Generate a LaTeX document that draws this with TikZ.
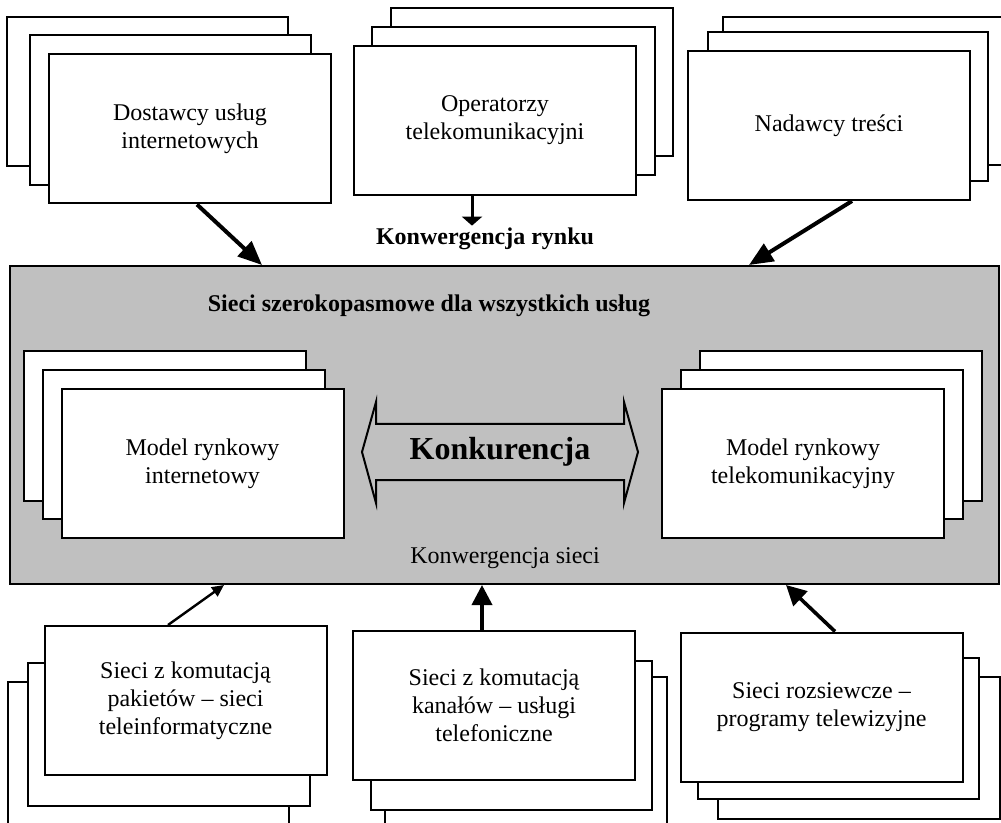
\documentclass[tikz,border=0pt]{standalone}
\usepackage{fontspec}
\setmainfont{Liberation Serif}
\usetikzlibrary{arrows.meta,calc}
\definecolor{panelgray}{RGB}{192,192,192}

\begin{document}
\begin{tikzpicture}
[x=0.5pt,y=-0.5pt,
font=\fontsize{12}{14}\selectfont,
card/.style={draw,fill=white,line width=1pt,minimum width=141pt,minimum height=74.5pt,align=center,inner sep=2pt},
backcard/.style={draw,fill=white,line width=1pt},
headtext/.style={font=\fontsize{12}{14}\selectfont\bfseries,inner sep=1pt},
plaintext/.style={inner sep=1pt},
flowbig/.style={line width=2pt,-{Triangle[length=12pt,width=10pt]}},
flowshort/.style={line width=1.5pt,-{Triangle[length=4.5pt,width=10pt]}},
flowthin/.style={line width=1.2pt,-{Triangle[length=6pt,width=5.5pt]}},
flowup/.style={line width=1.8pt,-{Triangle[length=10pt,width=10pt]}}]
  \useasboundingbox (0,0) rectangle (1001,823);
  \clip (0,0) rectangle (1001,823);
  \node[draw,fill=panelgray,line width=1pt,minimum width=494.5pt,minimum height=159pt] (broad) at (504.5,425) {};
  \node[headtext] (title) at (429,306) {Sieci szerokopasmowe dla wszystkich usług};
  \node[plaintext] (siec) at (505,558) {Konwergencja sieci};
  \draw [backcard] (24,351) rectangle (306,501);
  \draw [backcard] (43,370) rectangle (325,519);
  \node[card] (inet) at (202.5,463.5) {Model rynkowy\\internetowy};
  \draw [backcard] (700,351) rectangle (982,501);
  \draw [backcard] (681,370) rectangle (963,519);
  \node[card] (tele) at (803,463.5) {Model rynkowy\\telekomunikacyjny};
  \node[font=\fontsize{16}{18}\selectfont\bfseries] (konk) at (500,452) {Konkurencja};
  \draw [line width=1pt,shift={(konk)}] (-138,0) -- (-124,-50) -- (-124,-28) -- (124,-28) -- (124,-50) -- (138,0)
    -- (124,51) -- (124,28) -- (-124,28) -- (-124,51) -- cycle;
  \draw [backcard] (7,17) rectangle (288,166);
  \draw [backcard] (30,35) rectangle (311,185);
  \node[card] (dost) at (190,129) {Dostawcy usług\\internetowych};
  \draw [backcard] (391,8) rectangle (673,156);
  \draw [backcard] (372,27) rectangle (655,175);
  \node[card] (oper) at (495,120.5) {Operatorzy\\telekomunikacyjni};
  \draw [backcard] (723,17) rectangle (1005,165);
  \draw [backcard] (708,32) rectangle (988,181);
  \node[card] (nad) at (829,125.5) {Nadawcy treści};
  \node[headtext] (rynek) at (485,239) {Konwergencja rynku};
  \draw [backcard] (8,682) rectangle (289,832);
  \draw [backcard] (28,663) rectangle (310,806);
  \node[card] (pak) at (185.5,700.5) {Sieci z komutacją\\pakietów – sieci\\teleinformatyczne};
  \draw [backcard] (385,677) rectangle (667,827);
  \draw [backcard] (371,661) rectangle (652,810);
  \node[card] (kan) at (494,705.5) {Sieci z komutacją\\kanałów – usługi\\telefoniczne};
  \draw [backcard] (718,677) rectangle (1000,819);
  \draw [backcard] (698,658) rectangle (979,799);
  \node[card] (roz) at (821.5,707) {Sieci rozsiewcze –\\programy telewizyjne};
  \coordinate (opout) at ($(oper.south)+(-23,0)$);
  \coordinate (kanout) at ($(kan.north)+(-12,0)$);
  \draw [flowbig] ($(dost.south)+(7,0)$) -- ($(broad.north west)+(253,0)$);
  \draw [flowshort] (opout) -- (opout |- rynek.north);
  \draw [flowbig] ($(nad.south)+(23,0)$) -- ($(broad.north west)+(740,0)$);
  \draw [flowthin] ($(pak.north)+(-17.5,0)$) -- ($(broad.south west)+(215,0)$);
  \draw [flowup] (kanout) -- (kanout |- broad.south);
  \draw [flowup] ($(roz.north)+(13.5,0)$) -- ($(broad.south west)+(777,0)$);
\end{tikzpicture}
\end{document}
